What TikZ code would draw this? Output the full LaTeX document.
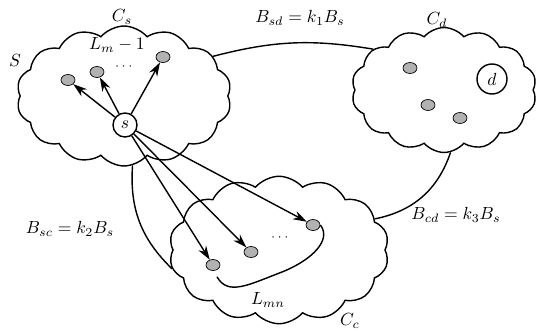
\documentclass[tikz,border=0pt]{standalone}
\usepackage{amsmath}
\usetikzlibrary{shapes.symbols, shapes.geometric, arrows.meta, positioning, calc}

\begin{document}
\begin{tikzpicture}[
  x=0.02cm, y=-0.02cm,
  region/.style={cloud, draw, thick, cloud puffs=14, cloud puff arc=100, aspect=1.6, inner sep=0pt},
  relay/.style={ellipse, draw, fill=gray!60, minimum width=0.28cm, minimum height=0.22cm, inner sep=0pt},
  endpoint/.style={circle, draw, thick, fill=white, inner sep=0pt},
  link/.style={thick},
  hop/.style={thick, -{Stealth[length=2.8mm, width=1.8mm]}},
  tag/.style={inner sep=1pt}
]
\useasboundingbox (0,0) rectangle (537,331);

% clusters
\node[region, minimum width=4.3cm, minimum height=2.8cm] (cs) at (124,96) {};
\node[region, minimum width=3.7cm, minimum height=2.5cm] (cd) at (444,90) {};
\node[region, minimum width=4.4cm, minimum height=2.95cm] (cc) at (279,250) {};

% nodes of C_s
\node[relay] (cs1) at (68,80) {};
\node[relay] (cs2) at (97,72) {};
\node[relay] (cs3) at (163,57) {};
\node[endpoint, minimum size=0.48cm] (src) at (125,125) {$s$};

% nodes of C_d
\node[relay] (cd1) at (410,68) {};
\node[relay] (cd2) at (428,105) {};
\node[relay] (cd3) at (460,118) {};
\node[endpoint, minimum size=0.6cm] (dst) at (492,79) {$d$};

% nodes of C_c
\node[relay] (cc1) at (213,265) {};
\node[relay] (cc2) at (251,252) {};
\node[relay] (cc3) at (313,225) {};

% labels
\node[tag] (lcs) at (122,17) {$C_s$};
\node[tag] (lcd) at (437,20) {$C_d$};
\node[tag] (lcc) at (350,321) {$C_c$};
\node[tag] (ls) at (15,60) {$S$};
\node[tag] (lm) at (117,45) {$L_m-1$};
\node[tag, font=\scriptsize] (ldots1) at (125,67) {$\cdots$};
\node[tag, font=\scriptsize] (ldots2) at (281,238) {$\cdots$};
\node[tag] (lmn) at (268,300) {$L_{mn}$};
\node[tag] (bsd) at (300,18) {$B_{sd}=k_1B_s$};
\node[tag] (bsc) at (70,229) {$B_{sc}=k_2B_s$};
\node[tag] (bcd) at (456,215) {$B_{cd}=k_3B_s$};

% links between clusters
\draw[link] (cs.24) to[bend left=12] (cd.150);
\draw[link] (cd.276) to[bend left=30] (cc.18);
\draw[link] (cs.277) to[bend right=25] (cc.190);

% hops from s
\foreach \t in {cs1,cs2,cs3,cc1,cc2,cc3}
  \draw[hop] (src) -- (\t);

% boundary of L_mn
\draw[link] (cc1.south) ++(4,6) coordinate (q0)
  (q0) .. controls (228,296) and (248,285) .. (282,272)
  .. controls (312,260) and (332,240) .. (cc3.east);
\end{tikzpicture}
\end{document}
